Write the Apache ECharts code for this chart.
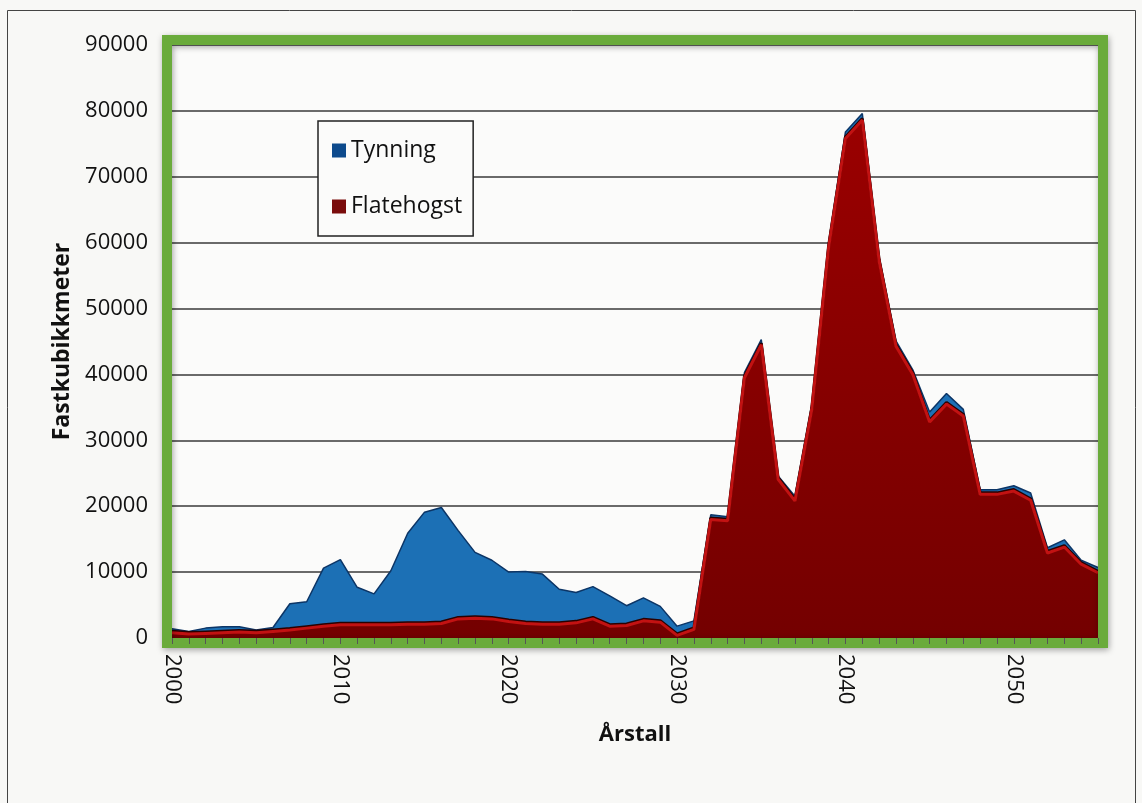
<!DOCTYPE html>
<html>
<head>
<meta charset="utf-8">
<script src="https://cdn.jsdelivr.net/npm/echarts@6/dist/echarts.min.js"></script>
<style>
  html, body { margin: 0; padding: 0; background: #f8f8f6; }
  #chart { width: 1142px; height: 803px; }
</style>
</head>
<body>
<div id="chart"></div>
<script>
// ---- data ----
const years = [];
for (let y = 2000; y <= 2055; y++) years.push(String(y));

const flatehogst = [
  800, 600, 700, 800, 900, 800, 1000, 1200, 1500, 1800,
  2000, 2000, 2000, 2000, 2100, 2100, 2200, 2900, 3000, 2900,
  2500, 2200, 2100, 2100, 2300, 2900, 1800, 1900, 2600, 2400,
  400, 1300, 18000, 17800, 39500, 44500, 24100, 20800, 34700, 59300,
  75800, 78600, 57200, 44300, 40000, 32800, 35500, 33700, 21800, 21800,
  22300, 20900, 12900, 13800, 11200, 9900
];

const tynning = [
  600, 400, 800, 900, 800, 400, 600, 4000, 4000, 8800,
  9900, 5700, 4700, 8200, 13800, 17000, 17600, 13400, 10000, 8900,
  7500, 7900, 7600, 5300, 4600, 4900, 4600, 3000, 3500, 2400,
  1400, 1300, 700, 600, 800, 800, 500, 700, 700, 700,
  1000, 1000, 600, 800, 700, 1500, 1600, 1000, 700, 700,
  800, 1100, 800, 1100, 600, 800
];

const yTicks = { min: 0, max: 90000, interval: 10000 };
const seriesNames = ['Tynning', 'Flatehogst'];

// ---- chart ----
const chart = echarts.init(document.getElementById('chart'), null, { renderer: 'canvas' });
const FONT = '"Open Sans"';

const option = {
  backgroundColor: '#f8f8f6',
  animation: false,
  grid: {
    left: 172, top: 45, width: 926, height: 593,
    show: true, backgroundColor: '#fbfbfa', borderWidth: 0
  },
  legend: {
    orient: 'vertical',
    left: 318, top: 121,
    itemWidth: 14, itemHeight: 14, itemGap: 33,
    icon: 'rect',
    padding: [18, 11, 18, 14],
    borderColor: '#222', borderWidth: 1.5,
    backgroundColor: '#fbfbfa',
    textStyle: { fontFamily: FONT, fontSize: 23, color: '#111' },
    data: [
      { name: seriesNames[0], itemStyle: { color: '#0d4a8c' } },
      { name: seriesNames[1], itemStyle: { color: '#7a0c0c' } }
    ]
  },
  xAxis: {
    type: 'category',
    data: years,
    boundaryGap: false,
    z: 20,
    name: 'Årstall',
    nameLocation: 'middle',
    nameGap: 86,
    nameTextStyle: { fontFamily: FONT, fontSize: 22, fontWeight: 'bold', color: '#111' },
    axisLine: { show: false },
    axisTick: { show: true, interval: 0, length: 6, lineStyle: { color: '#555', width: 1 } },
    axisLabel: {
      interval: function (i) { return i % 10 === 0; },
      rotate: -90,
      margin: 16,
      fontFamily: FONT, fontSize: 22, color: '#111'
    },
    splitLine: { show: false }
  },
  yAxis: {
    type: 'value',
    min: yTicks.min, max: yTicks.max, interval: yTicks.interval,
    name: 'Fastkubikkmeter',
    nameLocation: 'middle',
    nameGap: 97,
    nameTextStyle: { fontFamily: FONT, fontSize: 23, fontWeight: 'bold', color: '#111' },
    axisLine: { show: false },
    axisTick: { show: false },
    axisLabel: {
      margin: 24, fontFamily: FONT, fontSize: 22, color: '#111',
      formatter: function (v) { return String(v); }
    },
    splitLine: { show: true, lineStyle: { color: '#3a3a3a', width: 1.5 } }
  },
  series: [
    {
      name: seriesNames[1],
      type: 'line',
      stack: 'total',
      data: flatehogst,
      symbol: 'none',
      lineStyle: {
        color: '#c21212', width: 3,
        shadowColor: '#2a0000', shadowBlur: 0, shadowOffsetY: -1.5
      },
      areaStyle: {
        opacity: 1,
        color: new echarts.graphic.LinearGradient(0, 0, 0, 1, [
          { offset: 0, color: '#9a0000' },
          { offset: 1, color: '#740000' }
        ])
      },
      itemStyle: { color: '#7a0c0c' },
      z: 3
    },
    {
      name: seriesNames[0],
      type: 'line',
      stack: 'total',
      data: tynning,
      symbol: 'none',
      lineStyle: { color: '#0c3566', width: 1.5 },
      areaStyle: { opacity: 1, color: '#1c70b5' },
      itemStyle: { color: '#0d4a8c' },
      z: 2
    }
  ],
  graphic: [
    {
      type: 'rect',
      z: 10,
      silent: true,
      shape: { x: 167, y: 40, width: 936, height: 603 },
      style: {
        fill: null,
        stroke: '#6aab3b',
        lineWidth: 10,
        shadowBlur: 6,
        shadowColor: 'rgba(0,0,0,0.35)',
        shadowOffsetX: 1,
        shadowOffsetY: 2
      }
    },
    {
      type: 'rect',
      z: 0,
      silent: true,
      shape: { x: 7.5, y: 10.5, width: 1128, height: 820 },
      style: { fill: null, stroke: '#444', lineWidth: 1 }
    }
  ]
};

chart.setOption(option);
</script>
</body>
</html>
